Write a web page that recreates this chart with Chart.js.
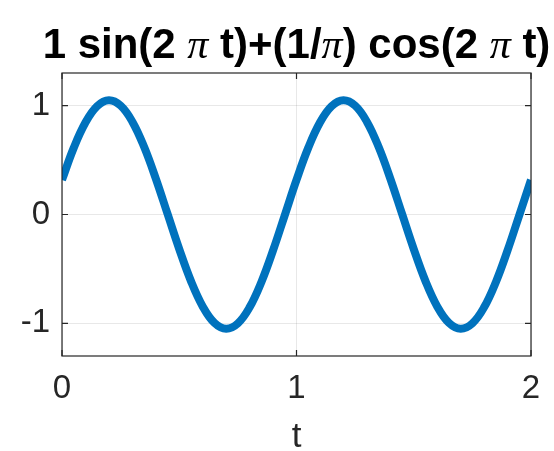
<!DOCTYPE html>
<html><head><meta charset="utf-8">
<script src="https://cdn.jsdelivr.net/npm/chart.js@4"></script>
<style>html,body{margin:0;padding:0;background:#fff}#wrap{width:554px;height:451px}</style>
</head><body><div id="wrap"><canvas id="c" width="554" height="451"></canvas></div>
<script>
const tValues = [0,0.05,0.1,0.15,0.2,0.25,0.3,0.35,0.4,0.45,0.5,0.55,0.6,0.65,0.7,0.75,0.8,0.85,0.9,0.95,
  1,1.05,1.1,1.15,1.2,1.25,1.3,1.35,1.4,1.45,1.5,1.55,1.6,1.65,1.7,1.75,1.8,1.85,1.9,1.95,2];
const yValues = [0.318,0.612,0.845,0.996,1.050,1.000,0.853,0.622,0.330,0.006,-0.318,-0.612,-0.845,-0.996,-1.050,-1.000,-0.853,-0.622,-0.330,-0.006,
  0.318,0.612,0.845,0.996,1.050,1.000,0.853,0.622,0.330,0.006,-0.318,-0.612,-0.845,-0.996,-1.050,-1.000,-0.853,-0.622,-0.330,-0.006,0.318];
const xTickValues = [0,1,2];
const yTickValues = [-1,0,1];
const xLabel = 't';
const titleParts = [
  {text:'1 sin(2 ', sym:false},{text:'π', sym:true},{text:' t)+(1/', sym:false},{text:'π', sym:true},
  {text:') cos(2 ', sym:false},{text:'π', sym:true},{text:' t)', sym:false}
];

const AX = '#262626';
const TITLE_SIZE = 42, TICK_SIZE = 33;

const boxPlugin = {
  id:'boxPlugin',
  afterDraw(chart){
    const {ctx, chartArea:a, scales} = chart;
    ctx.save();
    ctx.strokeStyle = AX; ctx.lineWidth = 1.2;
    ctx.strokeRect(a.left, a.top, a.right-a.left, a.bottom-a.top);
    const L = 6;
    ctx.beginPath();
    xTickValues.forEach(v=>{const x = scales.x.getPixelForValue(v);
      ctx.moveTo(x,a.bottom); ctx.lineTo(x,a.bottom-L); ctx.moveTo(x,a.top); ctx.lineTo(x,a.top+L);});
    yTickValues.forEach(v=>{const y = scales.y.getPixelForValue(v);
      ctx.moveTo(a.left,y); ctx.lineTo(a.left+L,y); ctx.moveTo(a.right,y); ctx.lineTo(a.right-L,y);});
    ctx.stroke();
    // title
    const cx = (a.left+a.right)/2;
    const fonts = p => p.sym ? `italic normal ${TITLE_SIZE}px "Liberation Serif"` : `bold ${TITLE_SIZE}px "Liberation Sans"`;
    let total = 0;
    titleParts.forEach(p=>{ctx.font = fonts(p); total += ctx.measureText(p.text).width;});
    let x = cx - total/2;
    ctx.fillStyle = '#000'; ctx.textBaseline = 'alphabetic'; ctx.textAlign = 'left';
    titleParts.forEach(p=>{ctx.font = fonts(p); ctx.fillText(p.text, x, 58); x += ctx.measureText(p.text).width;});
    ctx.restore();
  }
};

new Chart(document.getElementById('c'), {
  type:'line',
  data:{datasets:[{data:tValues.map((t,i)=>({x:t,y:yValues[i]})), borderColor:'#0072BD', borderWidth:8,
    pointRadius:0, tension:0.4, fill:false, borderCapStyle:'butt'}]},
  options:{
    responsive:false, animation:false,
    layout:{padding:{top:73,right:23,left:0,bottom:0}},
    plugins:{legend:{display:false}, tooltip:{enabled:false}, title:{display:false}},
    scales:{
      x:{type:'linear', min:0, max:2,
        afterBuildTicks:s=>{s.ticks = xTickValues.map(v=>({value:v}));},
        afterFit:s=>{s.height = 95;},
        grid:{color:'rgba(0,0,0,0.09)', drawTicks:false},
        border:{display:false},
        ticks:{color:AX, font:{family:'"Liberation Sans"', size:TICK_SIZE}, padding:13, maxRotation:0},
        title:{display:true, text:xLabel, color:AX, font:{family:'"Liberation Sans"', size:TICK_SIZE+2, lineHeight:0.8}, padding:{top:0,bottom:0}}
      },
      y:{type:'linear', min:-1.3, max:1.3,
        afterBuildTicks:s=>{s.ticks = yTickValues.map(v=>({value:v}));},
        afterFit:s=>{s.width = 62;},
        grid:{color:'rgba(0,0,0,0.09)', drawTicks:false},
        border:{display:false},
        ticks:{color:AX, font:{family:'"Liberation Sans"', size:TICK_SIZE}, padding:12}
      }
    }
  },
  plugins:[boxPlugin]
});
</script></body></html>
